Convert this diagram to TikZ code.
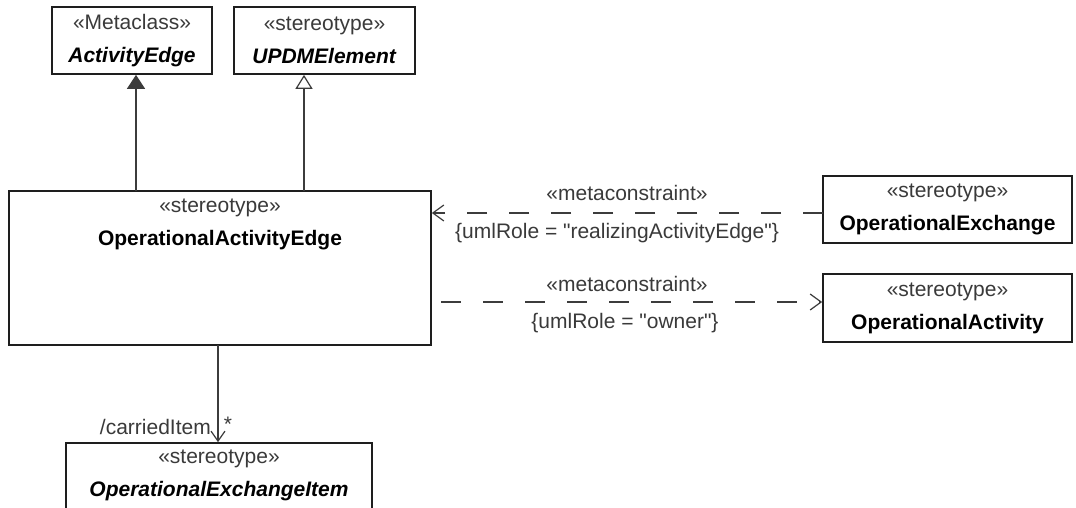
\documentclass[tikz,border=0pt]{standalone}
\usepackage{fontspec}
\setmainfont{Liberation Sans}[Ligatures=TeXOff]
\usetikzlibrary{arrows.meta}
\definecolor{ln}{HTML}{1E1E1E}
\definecolor{cn}{HTML}{3C3C3C}
\definecolor{st}{HTML}{3A3A3A}
\newcommand\umlfs{\fontsize{21}{33}\selectfont}
\newcommand\stt[1]{{\color{st}#1}}
\tikzset{
  cls/.style={draw=ln, line width=1.7pt, fill=white, inner sep=0pt, align=center, font=\umlfs},
  txt/.style={inner sep=0pt, align=center, font=\umlfs, text=st},
  gen/.style={draw=cn, line width=1.3pt, -{Triangle[open,width=17pt,length=14pt,line width=1.2pt]}},
  ext/.style={draw=cn, line width=1.3pt, -{Triangle[width=18pt,length=14pt,fill=cn]}},
  dep/.style={draw=cn, line width=1.3pt, dash pattern=on 20pt off 22pt, -{Straight Barb[length=11pt,width=16pt,line width=1.2pt]}},
  assoc/.style={draw=cn, line width=1.3pt, -{Straight Barb[length=10pt,width=14pt,line width=1.2pt]}},
}
\begin{document}
\begin{tikzpicture}[x=1pt,y=-1pt]
\useasboundingbox (0,0) rectangle (1076,508);
\fill[white] (0,0) rectangle (1076,508);
\clip (0,0) rectangle (1076,508);

\node[cls, minimum width=160pt, minimum height=67pt] (ae) at (132,40.5)
  {\stt{«Metaclass»}\\\textbf{\textit{ActivityEdge}}};
\node[cls, minimum width=181pt, minimum height=67pt] (updm) at (324.5,40.5)
  {\stt{«stereotype»}\\\textbf{\textit{UPDMElement}}};
\node[cls, minimum width=422pt, minimum height=154pt] (oae) at (220,268) {};
\node[txt, text=black] (oaet) at (220,224)
  {\stt{«stereotype»}\\\textbf{OperationalActivityEdge}};
\node[cls, minimum width=249pt, minimum height=67pt] (oe) at (947.5,209.5)
  {\stt{«stereotype»}\\\textbf{OperationalExchange}};
\node[cls, minimum width=249pt, minimum height=68pt] (oa) at (947.5,308)
  {\stt{«stereotype»}\\\textbf{OperationalActivity}};
\node[cls, minimum width=306pt, minimum height=80pt] (oei) at (219,483) {};
\node[txt, text=black] (oeit) at (219,475)
  {\stt{«stereotype»}\\\textbf{\textit{OperationalExchangeItem}}};

\coordinate (a1) at (136,191);
\coordinate (a2) at (304,191);
\coordinate (c1) at (823,213);
\coordinate (c2) at (441,302);
\coordinate (c3) at (218,345);

\draw[ext] (a1) -- (a1 |- ae.south);
\draw[gen] (a2) -- (a2 |- updm.south);
\draw[dep] (c1) -- (c1 -| oae.east);
\draw[dep] (c2) -- (c2 -| oa.west);
\draw[assoc] (c3) -- (c3 |- oei.north);

\node[txt] (m1) at (627,193) {«metaconstraint»};
\node[txt] (r1) at (617,233) {\{umlRole = "realizingActivityEdge"\}};
\node[txt] (m2) at (627,284) {«metaconstraint»};
\node[txt] (r2) at (625,323) {\{umlRole = "owner"\}};
\node[txt, anchor=east] (ci) at (211,427) {/carriedItem};
\node[txt] (mul) at (228,424) {*};
\end{tikzpicture}
\end{document}
